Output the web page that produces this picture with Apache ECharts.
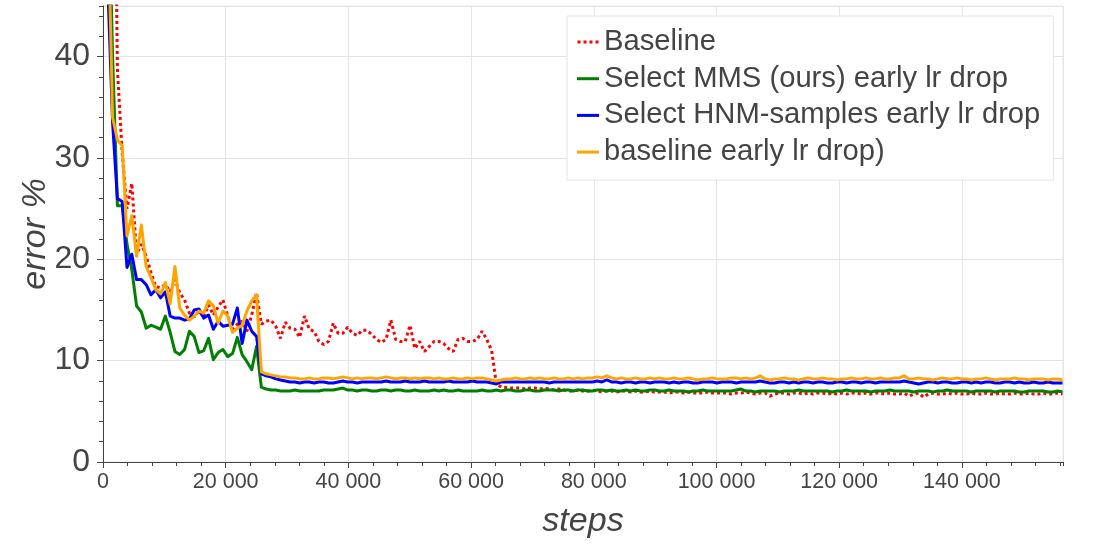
<!DOCTYPE html>
<html>
<head>
<meta charset="utf-8">
<script src="https://cdn.jsdelivr.net/npm/echarts@6/dist/echarts.min.js"></script>
<style>
html,body{margin:0;padding:0;background:#ffffff;}
#chart{width:1096px;height:548px;}
</style>
</head>
<body>
<div id="chart"></div>
<script>
// one logged point per epoch
const STEPS_PER_POINT = 782;

const seriesNames = [
  'Baseline',
  'Select MMS (ours) early lr drop',
  'Select HNM-samples early lr drop',
  'baseline early lr drop)'
];

const baseline = [
  95, 88, 80, 38.8, 30.5, 25.0, 27.5, 20.5, 21.5, 20.3,
  18.7, 17.3, 17.2, 17.5, 16.8, 18.0, 16.7, 16.0, 14.7, 14.3,
  14.9, 14.3, 15.5, 14.5, 15.3, 16.0, 14.4, 13.1, 13.6, 13.9,
  12.9, 14.5, 16.7, 13.6, 13.9, 14.0, 13.4, 12.2, 13.8, 13.2,
  13.1, 12.3, 14.4, 13.1, 12.9, 11.9, 11.6, 11.9, 13.7, 12.7,
  12.7, 13.3, 12.7, 12.5, 13.0, 13.0, 12.6, 12.1, 11.8, 12.1,
  14.0, 12.1, 11.9, 11.9, 13.5, 11.2, 11.9, 10.9, 11.4, 11.9,
  11.9, 11.7, 11.2, 10.9, 12.1, 12.2, 11.9, 11.9, 12.1, 12.9,
  12.1, 11.0, 7.7, 7.4, 7.35, 7.3, 7.3, 7.3, 7.2, 7.3,
  7.3, 7.2, 7.3, 7.2, 7.1, 7.2, 7.1, 7.0, 7.0, 7.1,
  7.0, 7.0, 7.1, 7.0, 6.9, 7.0, 7.0, 6.9, 7.0, 7.0,
  6.9, 7.0, 6.9, 6.9, 7.0, 6.9, 6.9, 6.9, 6.8, 6.9,
  6.9, 6.8, 6.9, 6.8, 6.8, 6.8, 6.9, 6.8, 6.8, 6.8,
  6.8, 6.7, 6.8, 6.8, 6.9, 6.8, 6.7, 6.8, 6.8, 6.5,
  6.7, 6.8, 6.8, 6.7, 6.8, 6.8, 6.7, 6.8, 6.7, 6.8,
  6.8, 6.7, 6.8, 6.7, 6.8, 6.7, 6.8, 6.8, 6.7, 6.8,
  6.7, 6.8, 6.8, 6.7, 6.8, 6.7, 6.7, 6.8, 6.5, 6.7,
  6.8, 6.4, 6.7, 6.8, 6.7, 6.7, 6.8, 6.7, 6.8, 6.7,
  6.7, 6.8, 6.7, 6.7, 6.8, 6.7, 6.7, 6.8, 6.7, 6.7,
  6.8, 6.7, 6.7, 6.8, 6.7, 6.7, 6.8, 6.7, 6.7, 6.8,
  6.7
];

const mmsEarly = [
  88, 60, 40, 25.3, 25.3, 21.5, 19.0, 15.4, 14.8, 13.2,
  13.5, 13.3, 13.1, 14.4, 12.8, 10.9, 10.6, 11.1, 12.9, 12.4,
  10.8, 11.0, 12.2, 10.1, 10.8, 11.1, 10.4, 10.7, 12.3, 10.6,
  9.9, 9.1, 11.4, 7.4, 7.2, 7.1, 7.1, 7.0, 7.0, 7.0,
  7.1, 7.0, 7.0, 7.0, 7.0, 7.0, 7.1, 7.1, 7.1, 7.2,
  7.3, 7.1, 7.1, 7.0, 7.1, 7.1, 7.0, 7.0, 7.1, 7.1,
  7.0, 7.1, 7.1, 7.0, 7.0, 7.1, 7.0, 7.0, 7.0, 7.1,
  7.0, 7.1, 7.0, 7.0, 7.1, 7.0, 7.0, 7.0, 7.0, 7.1,
  7.0, 7.0, 7.1, 7.0, 7.1, 7.1, 7.0, 7.0, 7.1, 7.1,
  7.0, 7.0, 7.1, 7.1, 7.1, 7.0, 7.1, 7.1, 7.0, 7.1,
  7.1, 7.0, 7.0, 7.1, 7.1, 7.0, 7.1, 7.0, 7.0, 7.1,
  7.0, 7.1, 7.0, 7.0, 7.1, 7.1, 7.0, 7.0, 7.1, 7.0,
  7.0, 7.0, 6.9, 7.0, 7.0, 7.1, 7.0, 7.0, 7.0, 7.0,
  7.0, 7.0, 7.1, 7.2, 7.0, 7.0, 6.9, 7.0, 7.0, 7.0,
  7.0, 6.9, 7.0, 7.0, 7.0, 7.1, 7.0, 7.0, 7.0, 7.0,
  7.0, 7.0, 6.9, 7.0, 7.0, 7.1, 7.0, 7.0, 7.0, 7.0,
  6.9, 7.0, 7.0, 7.0, 7.1, 7.0, 7.0, 7.0, 7.0, 6.9,
  7.0, 7.0, 7.0, 6.9, 7.0, 7.0, 7.1, 7.0, 7.0, 7.0,
  7.0, 6.9, 7.0, 7.0, 7.0, 7.0, 6.9, 7.0, 7.0, 7.0,
  7.0, 6.9, 6.9, 7.0, 7.0, 7.0, 7.0, 6.9, 6.9, 7.0,
  6.9
];

const hnmEarly = [
  86, 47, 33.5, 26.0, 25.7, 19.2, 20.5, 18.0, 18.0, 17.5,
  16.5, 17.0, 16.2, 16.8, 14.4, 14.2, 14.2, 14.0, 14.1, 15.0,
  15.1, 14.2, 14.5, 13.1, 13.9, 13.4, 13.5, 13.6, 15.2, 11.7,
  14.0, 12.9, 12.4, 8.7, 8.5, 8.4, 8.2, 8.1, 8.0, 7.9,
  7.9, 7.8, 7.9, 7.9, 7.8, 7.9, 7.9, 7.8, 7.8, 7.9,
  8.0, 7.9, 7.9, 7.8, 7.9, 7.9, 7.9, 7.9, 7.9, 8.0,
  7.9, 7.9, 7.9, 8.0, 7.9, 7.9, 7.9, 8.0, 7.9, 7.9,
  7.9, 7.9, 8.0, 7.9, 7.9, 7.9, 7.9, 8.0, 7.9, 7.9,
  7.9, 7.8, 7.7, 7.9, 7.9, 7.9, 7.9, 7.9, 7.9, 7.9,
  7.9, 7.9, 7.9, 7.8, 7.9, 7.9, 7.9, 7.9, 7.9, 7.9,
  7.9, 7.9, 7.9, 8.0, 7.9, 8.1, 7.9, 7.9, 7.8, 7.9,
  7.9, 7.8, 7.9, 7.9, 7.8, 7.9, 7.9, 7.9, 7.8, 7.9,
  7.8, 7.9, 7.9, 7.8, 7.8, 7.9, 7.9, 7.9, 7.8, 7.9,
  7.9, 7.9, 7.8, 7.9, 7.9, 7.9, 7.9, 8.0, 7.9, 7.8,
  7.8, 7.9, 7.9, 7.8, 7.9, 7.8, 7.9, 7.9, 7.8, 7.9,
  7.9, 7.8, 7.8, 7.9, 7.9, 7.8, 7.9, 7.9, 7.8, 7.9,
  7.9, 7.8, 7.9, 7.9, 7.9, 7.9, 7.9, 8.0, 7.9, 7.8,
  7.7, 7.8, 7.9, 7.9, 7.8, 7.9, 7.9, 7.8, 7.8, 7.9,
  7.9, 7.8, 7.9, 7.8, 7.9, 7.9, 7.8, 7.8, 7.9, 7.9,
  7.8, 7.9, 7.8, 7.8, 7.9, 7.8, 7.8, 7.9, 7.8, 7.8,
  7.8
];

const baselineEarly = [
  87, 55, 34.0, 31.8, 31.2, 22.3, 24.3, 20.3, 23.4, 19.3,
  18.2, 17.0, 16.6, 17.7, 15.6, 19.3, 15.2, 14.5, 14.0, 14.4,
  14.9, 14.7, 15.9, 15.4, 13.7, 14.9, 14.4, 12.8, 13.2, 13.5,
  14.9, 15.9, 16.5, 8.9, 8.7, 8.6, 8.5, 8.4, 8.4, 8.3,
  8.3, 8.2, 8.2, 8.3, 8.2, 8.2, 8.3, 8.3, 8.2, 8.3,
  8.4, 8.3, 8.2, 8.3, 8.2, 8.3, 8.3, 8.2, 8.3, 8.4,
  8.3, 8.2, 8.3, 8.3, 8.2, 8.3, 8.2, 8.3, 8.3, 8.2,
  8.3, 8.2, 8.2, 8.3, 8.2, 8.2, 8.3, 8.2, 8.3, 8.3,
  8.2, 8.1, 8.0, 8.1, 8.2, 8.2, 8.3, 8.2, 8.2, 8.3,
  8.2, 8.3, 8.2, 8.2, 8.3, 8.2, 8.2, 8.3, 8.2, 8.3,
  8.2, 8.3, 8.3, 8.4, 8.3, 8.5, 8.3, 8.2, 8.3, 8.2,
  8.2, 8.3, 8.2, 8.2, 8.3, 8.2, 8.3, 8.2, 8.2, 8.3,
  8.2, 8.2, 8.3, 8.2, 8.1, 8.2, 8.2, 8.3, 8.2, 8.2,
  8.2, 8.3, 8.3, 8.2, 8.3, 8.2, 8.3, 8.5, 8.2, 8.1,
  8.2, 8.2, 8.3, 8.2, 8.2, 8.1, 8.2, 8.3, 8.2, 8.2,
  8.3, 8.2, 8.2, 8.1, 8.2, 8.2, 8.3, 8.2, 8.2, 8.3,
  8.2, 8.2, 8.3, 8.2, 8.2, 8.3, 8.3, 8.5, 8.2, 8.2,
  8.3, 8.2, 8.2, 8.1, 8.2, 8.3, 8.2, 8.2, 8.3, 8.2,
  8.2, 8.1, 8.2, 8.2, 8.3, 8.2, 8.1, 8.2, 8.2, 8.2,
  8.3, 8.2, 8.2, 8.1, 8.2, 8.2, 8.2, 8.1, 8.2, 8.2,
  8.1
];

const seriesColors = ['#ff0000', '#008000', '#0000ff', '#ffa500'];
const xMax = 156480;
const yMax = 45;

const FONT = '"Liberation Sans", Arial, Helvetica, sans-serif';
const TEXT = '#444444';

function toPairs(arr) {
  return arr.map((v, i) => [i * STEPS_PER_POINT, v]);
}
function thousands(v) {
  return String(v).replace(/\B(?=(\d{3})+(?!\d))/g, ' ');
}

const values = [baseline, mmsEarly, hnmEarly, baselineEarly];

const chart = echarts.init(document.getElementById('chart'), null, {renderer: 'canvas'});

const option = {
  animation: false,
  backgroundColor: '#ffffff',
  grid: {
    left: 103, right: 33, top: 6, bottom: 86,
    show: true, borderColor: '#e5e5e5', borderWidth: 1,
    backgroundColor: 'transparent',
    containLabel: false, outerBoundsMode: 'none'
  },
  legend: {
    orient: 'vertical',
    left: 567, top: 16,
    padding: [8, 13, 10, 10],
    backgroundColor: '#ffffff',
    borderColor: '#e5e5e5', borderWidth: 1,
    itemWidth: 22, itemHeight: 3,
    itemGap: 0.7,
    selectedMode: false,
    itemStyle: {borderWidth: 0},
    textStyle: {fontSize: 29.2, color: TEXT, fontFamily: FONT, lineHeight: 30, padding: [6, 0, 0, 0]},
    data: [
      {name: seriesNames[0], icon: 'path://M0,0h3v3h-3zM6,0h3v3h-3zM12,0h3v3h-3zM18,0h3v3h-3z'},
      {name: seriesNames[1], icon: 'path://M0,0h22v3h-22z'},
      {name: seriesNames[2], icon: 'path://M0,0h22v3h-22z'},
      {name: seriesNames[3], icon: 'path://M0,0h22v3h-22z'}
    ]
  },
  xAxis: [
    {
      type: 'value', min: 0, max: xMax, interval: 20000, position: 'bottom',
      name: 'steps', nameLocation: 'middle', nameGap: 43, nameMoveOverlap: false,
      nameTextStyle: {fontSize: 34, fontStyle: 'italic', color: TEXT, fontFamily: FONT},
      axisLine: {show: true, onZero: false, lineStyle: {color: '#444444', width: 1}},
      axisTick: {show: true, length: 6, lineStyle: {color: '#444444', width: 1}},
      axisLabel: {
        fontSize: 21.5, color: TEXT, fontFamily: FONT, margin: 9,
        showMaxLabel: false, hideOverlap: false,
        formatter: v => (v % 20000 === 0 ? thousands(v) : '')
      },
      splitLine: {show: true, lineStyle: {color: '#e5e5e5', width: 1}},
      minorTick: {show: false}
    },
    {
      type: 'value', min: 0, max: xMax, interval: 4000, position: 'bottom',
      axisLine: {show: false, onZero: false},
      axisTick: {show: true, length: 4, lineStyle: {color: '#444444', width: 1}},
      axisLabel: {show: false},
      splitLine: {show: false}
    }
  ],
  yAxis: [
    {
      type: 'value', min: 0, max: yMax, interval: 10, position: 'left',
      name: 'error %', nameLocation: 'middle', nameGap: 50, nameMoveOverlap: false,
      nameTextStyle: {fontSize: 34, fontStyle: 'italic', color: TEXT, fontFamily: FONT},
      axisLine: {show: true, onZero: false, lineStyle: {color: '#444444', width: 1}},
      axisTick: {show: true, length: 6, lineStyle: {color: '#444444', width: 1}},
      axisLabel: {
        fontSize: 32, color: TEXT, fontFamily: FONT, margin: 13,
        showMaxLabel: false, hideOverlap: false,
        formatter: v => (v % 10 === 0 ? String(v) : '')
      },
      splitLine: {show: true, lineStyle: {color: '#e5e5e5', width: 1}}
    },
    {
      type: 'value', min: 0, max: yMax, interval: 2, position: 'left',
      axisLine: {show: false, onZero: false},
      axisTick: {show: true, length: 4, lineStyle: {color: '#444444', width: 1}},
      axisLabel: {show: false},
      splitLine: {show: false}
    }
  ],
  series: values.map((arr, k) => ({
    name: seriesNames[k],
    type: 'line',
    xAxisIndex: 0,
    yAxisIndex: 0,
    data: toPairs(arr),
    showSymbol: false,
    symbol: 'none',
    color: seriesColors[k],
    clip: true,
    z: 2 + k,
    lineStyle: k === 0
      ? {color: seriesColors[k], width: 3, type: [3, 3], cap: 'butt'}
      : {color: seriesColors[k], width: 3, type: 'solid', join: 'round'},
    emphasis: {disabled: true}
  }))
};

chart.setOption(option);
</script>
</body>
</html>
